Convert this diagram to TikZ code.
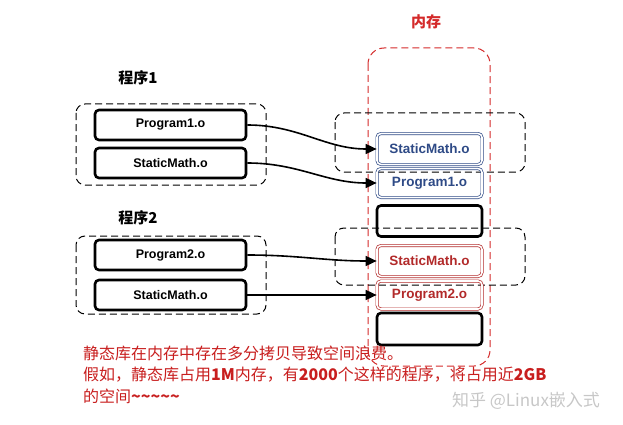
\documentclass[tikz,border=0pt]{standalone}
\usepackage{fontspec}
\setmainfont{Liberation Sans}
\newfontfamily\cjk{Noto Sans CJK SC}
\usetikzlibrary{arrows.meta}
\definecolor{memred}{HTML}{D42A2A}
\definecolor{txtred}{HTML}{C81E1E}
\definecolor{objblue}{HTML}{2E4A86}
\definecolor{objred}{HTML}{B22A2A}
\tikzset{
  objbox/.style={draw=black, line width=2.6pt, rounded corners=4pt, minimum width=151pt, minimum height=30pt, inner sep=0pt, font=\fontsize{12.5}{14}\selectfont\bfseries},
  membox/.style={line width=2.6pt, rounded corners=4pt, minimum width=105pt, inner sep=0pt, font=\fontsize{13.5}{15}\selectfont\bfseries},
  bluebox/.style={membox, draw=objblue, double=white, line width=0.7pt, double distance=1.6pt, text=objblue},
  redbox/.style={membox, draw=objred, double=white, line width=0.7pt, double distance=1.6pt, text=objred},
  grp/.style={draw=black, line width=1pt, dash pattern=on 7pt off 4pt, rounded corners=9pt},
  memgrp/.style={draw=memred, line width=1pt, dash pattern=on 7pt off 4pt, rounded corners=16pt},
  link/.style={line width=1.6pt, -{Triangle[length=11pt,width=10pt]}},
  ttl/.style={font=\cjk\fontsize{15}{17}\selectfont\bfseries},
  note/.style={font=\cjk\fontsize{16}{18}\selectfont, text=txtred, anchor=west, inner sep=0pt}
}
\begin{document}
\begin{tikzpicture}[x=1pt,y=-1pt]
\useasboundingbox (0,0) rectangle (623,425);
% titles
\node[ttl] (t1) at (138,78) {程序1};
\node[ttl] (t2) at (138,218) {程序2};
\node[ttl, text=memred] (tm) at (426,22) {内存};
% memory region
\draw[memgrp] (368,48) rectangle (490,366);
% left groups
\draw[grp] (76,104) rectangle (266,185);
\draw[grp] (76,236) rectangle (266,314);
% right groups
\draw[grp] (335,113) rectangle (525,172);
\draw[grp] (335,228) rectangle (525,285);
% program boxes
\node[objbox] (p1) at (170.5,125) {Program1.o};
\node[objbox] (s1) at (170.5,163) {StaticMath.o};
\node[objbox] (p2) at (170.5,255) {Program2.o};
\node[objbox] (s2) at (170.5,295) {StaticMath.o};
% memory boxes
\node[bluebox, minimum height=31pt] (ms1) at (429.5,149) {StaticMath.o};
\node[bluebox, minimum height=29pt] (mp1) at (429.5,183) {Program1.o};
\node[membox, draw=black, minimum height=31pt] (e1) at (429.5,221) {};
\node[redbox, minimum height=31pt] (ms2) at (429.5,261) {StaticMath.o};
\node[redbox, minimum height=28pt] (mp2) at (429.5,295) {Program2.o};
\node[membox, draw=black, minimum height=32pt] (e2) at (429.5,329) {};
% links
\draw[link] (p1.east) to[out=0,in=180] (ms1.west);
\draw[link] (s1.east) to[out=0,in=180] (mp1.west);
\draw[link] (p2.east) to[out=0,in=180] (ms2.west);
\draw[link] (s2.east) to[out=0,in=180] (mp2.west);
% notes
\node[note] (n1) at (83,353) {静态库在内存中存在多分拷贝导致空间浪费。};
\node[note] (n2) at (83,375) {假如，静态库占用{\bfseries 1M}内存，有{\bfseries 2000}个这样的程序，将占用近{\bfseries 2GB}};
\node[note] (n3) at (83,396) {的空间{\bfseries \textasciitilde\textasciitilde\textasciitilde\textasciitilde\textasciitilde}};
% watermark
\node[font=\cjk\fontsize{17}{19}\selectfont, text=black!22] (wm) at (526,401) {知乎 @Linux嵌入式};
\end{tikzpicture}
\end{document}
